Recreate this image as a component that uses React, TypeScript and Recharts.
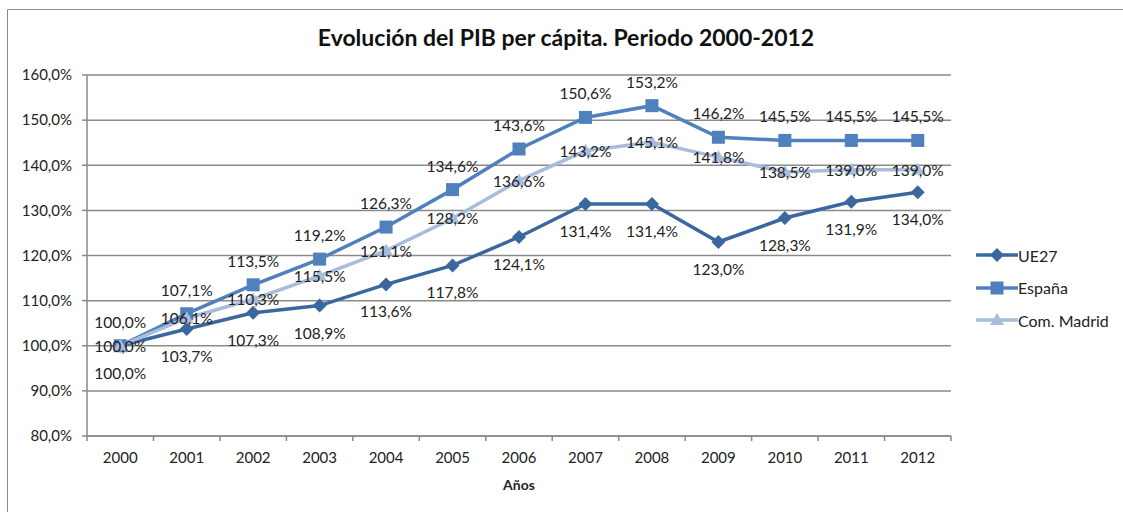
import React from "react";
import {
  LineChart,
  Line,
  XAxis,
  YAxis,
  CartesianGrid,
  Legend,
  LabelList,
} from "recharts";

const years = [
  "2000", "2001", "2002", "2003", "2004", "2005", "2006",
  "2007", "2008", "2009", "2010", "2011", "2012",
];
const ue27 = [100, 103.7, 107.3, 108.9, 113.6, 117.8, 124.1, 131.4, 131.4, 123.0, 128.3, 131.9, 134.0];
const espana = [100, 107.1, 113.5, 119.2, 126.3, 134.6, 143.6, 150.6, 153.2, 146.2, 145.5, 145.5, 145.5];
const madrid = [100, 106.1, 110.3, 115.5, 121.1, 128.2, 136.6, 143.2, 145.1, 141.8, 138.5, 139.0, 139.0];
const yTicks = [80, 90, 100, 110, 120, 130, 140, 150, 160];

const FONT = "Lato, 'Open Sans', sans-serif";
const GRAY = "#8a8a8a";
const C_UE = "#3b679f";
const C_ES = "#4f81bd";
const C_MA = "#a8bcdb";

const data = years.map((year, i) => ({
  x: i,
  year,
  ue27: ue27[i],
  espana: espana[i],
  madrid: madrid[i],
}));

// label ticks at the categories, tick marks at the boundaries
const xTicks = years.flatMap((_, i) => [i - 0.5, i]).concat(years.length - 0.5);

const pct = (v: number) => v.toFixed(1).replace(".", ",") + "%";

const XTick = (props: any) => {
  const { x, y, payload } = props;
  const v = payload.value;
  if (Number.isInteger(v)) {
    return (
      <text x={x} y={y + 22} textAnchor="middle" fontFamily={FONT} fontSize={15} fill="#222">
        {years[v]}
      </text>
    );
  }
  return <line x1={x} x2={x} y1={y - 5} y2={y} stroke={GRAY} strokeWidth={1.5} />;
};

const Diamond = ({ cx, cy, color }: any) => (
  <path d={`M${cx},${cy - 7} L${cx + 7},${cy} L${cx},${cy + 7} L${cx - 7},${cy} Z`} fill={color} />
);
const Square = ({ cx, cy, color }: any) => (
  <rect x={cx - 6.5} y={cy - 6.5} width={13} height={13} fill={color} />
);
const Triangle = ({ cx, cy, color }: any) => (
  <path d={`M${cx},${cy - 7} L${cx + 7},${cy + 5} L${cx - 7},${cy + 5} Z`} fill={color} />
);

const makeLabel = (dy: number) => (props: any) => {
  const { x, y, value, index } = props;
  return (
    <text
      key={index}
      x={x}
      y={y + dy}
      textAnchor="middle"
      dominantBaseline="central"
      fontFamily={FONT}
      fontSize={15.5}
      fill="#222"
    >
      {pct(value)}
    </text>
  );
};

const legendItems = [
  { name: "UE27", color: C_UE, Marker: Diamond },
  { name: "España", color: C_ES, Marker: Square },
  { name: "Com. Madrid", color: C_MA, Marker: Triangle },
];

const LegendBox = () => (
  <div>
    {legendItems.map(({ name, color, Marker }) => (
      <div key={name} style={{ display: "flex", alignItems: "center", height: 32.5 }}>
        <svg width={42} height={20}>
          <line x1={0} x2={42} y1={10} y2={10} stroke={color} strokeWidth={3.5} />
          <Marker cx={21} cy={10} color={color} />
        </svg>
        <span style={{ fontFamily: FONT, fontSize: 16, color: "#222" }}>{name}</span>
      </div>
    ))}
  </div>
);

export default function App() {
  return (
    <div
      style={{
        position: "absolute",
        left: 0,
        top: 0,
        width: 1123,
        height: 512,
        overflow: "hidden",
        background: "#fff",
      }}
    >
      <div
        style={{
          position: "absolute",
          left: 0,
          width: 1132,
          top: 23,
          textAlign: "center",
          fontFamily: FONT,
          fontWeight: 700,
          fontSize: 23,
          color: "#111",
        }}
      >
        Evolución del PIB per cápita. Periodo 2000-2012
      </div>
      <LineChart
        width={1123}
        height={512}
        data={data}
        margin={{ top: 75, right: 172, bottom: 36, left: 7 }}
        style={{ position: "absolute", left: 0, top: 0 }}
      >
        <CartesianGrid vertical={false} stroke={GRAY} strokeWidth={1.5} />
        <XAxis
          dataKey="x"
          type="number"
          domain={[-0.5, years.length - 0.5]}
          ticks={xTicks}
          interval={0}
          height={40}
          tickSize={5}
          tickMargin={0}
          tickLine={false}
          tick={<XTick />}
          axisLine={{ stroke: GRAY, strokeWidth: 1.5 }}
          label={{
            value: "Años",
            position: "bottom",
            offset: 4,
            style: { fontFamily: FONT, fontWeight: 700, fontSize: 14, fill: "#222" },
          }}
        />
        <YAxis
          width={80}
          domain={[80, 160]}
          ticks={yTicks}
          interval={0}
          tickSize={5}
          tickMargin={10}
          tickFormatter={pct}
          axisLine={{ stroke: GRAY, strokeWidth: 1.5 }}
          tickLine={{ stroke: GRAY, strokeWidth: 1.5 }}
          tick={{ fontFamily: FONT, fontSize: 15, fill: "#222" }}
        />
        <Legend
          layout="horizontal"
          align="center"
          verticalAlign="middle"
          content={<LegendBox />}
          wrapperStyle={{ position: "absolute", left: 976, top: 239, width: 140 }}
        />
        <Line
          dataKey="ue27"
          name="UE27"
          stroke={C_UE}
          strokeWidth={3.5}
          isAnimationActive={false}
          dot={(p: any) => <Diamond key={p.index} cx={p.cx} cy={p.cy} color={C_UE} />}
        >
          <LabelList dataKey="ue27" content={makeLabel(27)} />
        </Line>
        <Line
          dataKey="espana"
          name="España"
          stroke={C_ES}
          strokeWidth={3.5}
          isAnimationActive={false}
          dot={(p: any) => <Square key={p.index} cx={p.cx} cy={p.cy} color={C_ES} />}
        >
          <LabelList dataKey="espana" content={makeLabel(-24)} />
        </Line>
        <Line
          dataKey="madrid"
          name="Com. Madrid"
          stroke={C_MA}
          strokeWidth={3.5}
          isAnimationActive={false}
          dot={(p: any) => <Triangle key={p.index} cx={p.cx} cy={p.cy} color={C_MA} />}
        >
          <LabelList dataKey="madrid" content={makeLabel(0)} />
        </Line>
      </LineChart>
      {/* chart frame, only its left and top edges are inside the picture */}
      <svg
        width={1123}
        height={512}
        style={{ position: "absolute", left: 0, top: 0, zIndex: 5, pointerEvents: "none" }}
      >
        <polyline points="7.5,512 7.5,9.5 1123,9.5" fill="none" stroke={GRAY} strokeWidth={1} />
      </svg>
    </div>
  );
}
